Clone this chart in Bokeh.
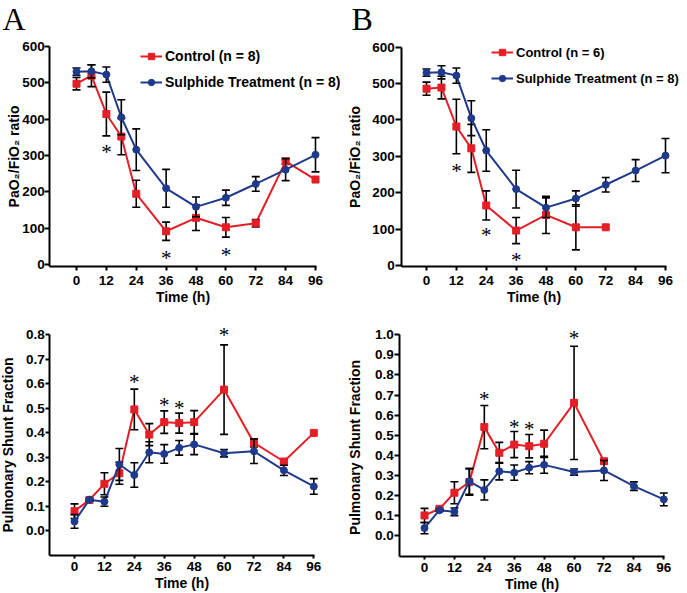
from bokeh.plotting import figure
from bokeh.models import (ColumnDataSource, FixedTicker, NumeralTickFormatter,
                          Legend, LegendItem, LabelSet, Label, Range1d, LinearAxis)
from bokeh.layouts import row, column
from bokeh.embed import file_html
from bokeh.resources import INLINE

# ---------------- data ----------------
x_ticks = [0, 12, 24, 36, 48, 60, 72, 84, 96]
pf_ticks = [0, 100, 200, 300, 400, 500, 600]
shunt_ticks_a = [0.0, 0.1, 0.2, 0.3, 0.4, 0.5, 0.6, 0.7, 0.8]
shunt_ticks_b = [0.0, 0.1, 0.2, 0.3, 0.4, 0.5, 0.6, 0.7, 0.8, 0.9, 1.0]

# PaO2/FiO2 ratio
time_pf = [0, 6, 12, 18, 24, 36, 48, 60, 72, 84, 96]
sulph_pf = [530, 531, 522, 405, 316, 210, 159, 184, 222, 261, 302]
sulph_pf_err = [10, 18, 21, 48, 57, 52, 27, 21, 20, 30, 47]

ctrl_pf_a = [497, 519, 414, 352, 195, 92, 129, 103, 114, 284, 234]
ctrl_pf_a_err = [17, 30, 60, 50, 37, 25, 35, 27, 10, 8, 0]

time_pf_ctrl_b = [0, 6, 12, 18, 24, 36, 48, 60, 72]
ctrl_pf_b = [486, 489, 382, 322, 165, 96, 139, 105, 105]
ctrl_pf_b_err = [18, 31, 75, 66, 40, 36, 51, 62, 0]

# Pulmonary shunt fraction
time_shunt = [0, 6, 12, 18, 24, 30, 36, 42, 48, 60, 72, 84, 96]
sulph_shunt = [0.037, 0.126, 0.118, 0.270, 0.227, 0.320, 0.313, 0.338, 0.352, 0.316, 0.324, 0.246, 0.180]
sulph_shunt_err = [0.028, 0.005, 0.019, 0.065, 0.050, 0.043, 0.038, 0.030, 0.042, 0.015, 0.050, 0.021, 0.032]

ctrl_shunt_a = [0.079, 0.125, 0.191, 0.234, 0.495, 0.392, 0.443, 0.439, 0.443, 0.576, 0.358, 0.282, 0.399]
ctrl_shunt_a_err = [0.030, 0.005, 0.045, 0.045, 0.083, 0.045, 0.046, 0.041, 0.047, 0.183, 0.016, 0.008, 0.0]

time_shunt_ctrl_b = [0, 6, 12, 18, 24, 30, 36, 42, 48, 60, 72]
ctrl_shunt_b = [0.100, 0.133, 0.213, 0.266, 0.540, 0.412, 0.453, 0.445, 0.457, 0.661, 0.370]
ctrl_shunt_b_err = [0.035, 0.005, 0.055, 0.065, 0.108, 0.052, 0.065, 0.058, 0.068, 0.282, 0.012]

# significance markers
stars_pf_a_x = [12, 36, 60]
stars_pf_a_y = [320, 30, 37]
stars_pf_b_x = [12, 24, 36]
stars_pf_b_y = [270, 96, 27]
stars_shunt_a_x = [24, 36, 42, 60]
stars_shunt_a_y = [0.624, 0.531, 0.518, 0.815]
stars_shunt_b_x = [24, 36, 42, 60]
stars_shunt_b_y = [0.701, 0.560, 0.551, 1.005]

legend_a = ["Control (n = 8)", "Sulphide Treatment (n = 8)"]
legend_b = ["Control (n = 6)", "Sulphide Treatment (n = 8)"]

RED = "#e41e26"
BLUE = "#1f3a8c"
FONT = "Liberation Sans"


def mapper(pa, va, pb, vb):
    s = (pb - pa) / (vb - va)
    return lambda px: va + (px - pa) / s


def make_panel(W, H, xanch, yanch, yaxis_px, xaxis_py, xright_px, ytop, yticks, ylabel, fmt,
               series, stars, letter=None, legend=None, legend_size="14px",
               ytick_out=5, ystd=(0, 1), xtick_out=4, xstd=(5, 0)):
    fx = mapper(*xanch)
    fy = mapper(*yanch)
    p = figure(width=W, height=H, output_backend="svg", toolbar_location=None,
               x_range=Range1d(fx(0), fx(W)), y_range=Range1d(fy(H), fy(0)),
               x_axis_location=None, y_axis_location=None,
               min_border_left=0, min_border_right=0, min_border_top=0, min_border_bottom=0)
    p.outline_line_color = None
    p.grid.grid_line_color = None
    p.background_fill_color = "white"
    p.border_fill_color = "white"

    y_loc = fx(yaxis_px)
    x_loc = fy(xaxis_py)
    xa = LinearAxis(fixed_location=x_loc, bounds=(y_loc, fx(xright_px)),
                    ticker=FixedTicker(ticks=x_ticks), axis_label="Time (h)")
    ya = LinearAxis(fixed_location=y_loc, bounds=(x_loc, ytop),
                    ticker=FixedTicker(ticks=yticks), axis_label=ylabel)
    if fmt:
        ya.formatter = NumeralTickFormatter(format=fmt)
    for ax, tout, std in ((xa, xtick_out, xstd), (ya, ytick_out, ystd)):
        ax.axis_line_width = 2
        ax.axis_line_color = "black"
        ax.major_tick_line_width = 2
        ax.major_tick_line_color = "black"
        ax.major_tick_in = 0
        ax.major_tick_out = tout
        ax.minor_tick_line_color = None
        ax.major_label_text_font = FONT
        ax.major_label_text_font_style = "bold"
        ax.major_label_text_font_size = "13.5px"
        ax.major_label_text_color = "black"
        ax.axis_label_text_font = FONT
        ax.axis_label_text_font_style = "bold"
        ax.axis_label_text_font_size = "14px"
        ax.axis_label_text_color = "black"
        ax.major_label_standoff = std[0]
        ax.axis_label_standoff = std[1]
    p.add_layout(xa, "below")
    p.add_layout(ya, "left")

    items = []
    for (t, v, e, color, marker, name) in series:
        ln = p.line(t, v, line_color=color, line_width=2)
        et = [ti for ti, ei in zip(t, e) if ei > 0]
        lo = [vi - ei for vi, ei in zip(v, e) if ei > 0]
        hi = [vi + ei for vi, ei in zip(v, e) if ei > 0]
        p.segment(x0=et, y0=lo, x1=et, y1=hi, line_color="black", line_width=1.6)
        p.scatter(et + et, lo + hi, marker="dash", size=8, line_color="black", line_width=1.6)
        sc = p.scatter(t, v, marker=marker, size=7, fill_color=color, line_color=color)
        items.append(LegendItem(label=name, renderers=[ln, sc]))

    if legend is not None:
        lg = Legend(items=items, location=legend, border_line_color=None,
                    background_fill_alpha=0, padding=0, margin=0, spacing=6,
                    glyph_width=22, glyph_height=16, label_height=20, label_standoff=3,
                    label_text_font=FONT, label_text_font_style="bold",
                    label_text_font_size=legend_size, label_text_color="black")
        p.add_layout(lg)

    sx, sy = stars
    ssrc = ColumnDataSource(dict(x=sx, y=sy, t=["*"] * len(sx)))
    p.add_layout(LabelSet(x="x", y="y", text="t", source=ssrc, text_align="center",
                          text_baseline="middle", text_font=FONT, text_font_size="21px",
                          text_color="black", y_offset=-4))

    if letter is not None:
        txt, lx, ly = letter
        p.add_layout(Label(x=lx, y=H - ly, x_units="screen", y_units="screen", text=txt,
                           text_font="Liberation Serif", text_font_size="32px",
                           text_baseline="alphabetic", text_align="left", text_color="black"))
    return p


pf_label = "PaO\u2082/FiO\u2082 ratio"

pa = make_panel(340, 306, (76, 0, 315, 96), (264.3, 0, 45.7, 600), 49.3, 266, 316, 600,
                pf_ticks, pf_label, None,
                [(time_pf, ctrl_pf_a, ctrl_pf_a_err, RED, "square", legend_a[0]),
                 (time_pf, sulph_pf, sulph_pf_err, BLUE, "circle", legend_a[1])],
                (stars_pf_a_x, stars_pf_a_y), letter=("A", 2, 18), legend=(140, 214),
                ytick_out=5, ystd=(0, -3), xtick_out=4, xstd=(5, 1))

pb = make_panel(347, 306, (86, 0, 325, 96), (265, 0, 46.7, 600), 61.3, 266.3, 326, 600,
                pf_ticks, pf_label, None,
                [(time_pf_ctrl_b, ctrl_pf_b, ctrl_pf_b_err, RED, "square", legend_b[0]),
                 (time_pf, sulph_pf, sulph_pf_err, BLUE, "circle", legend_b[1])],
                (stars_pf_b_x, stars_pf_b_y), letter=("B", 11, 18), legend=(151, 218),
                legend_size="13px",
                ytick_out=6, ystd=(1, 6), xtick_out=4, xstd=(5, 1))

pc = make_panel(340, 287, (74, 0, 313.3, 96), (224, 0, 28.3, 0.8), 49.3, 249.3, 314, 0.8,
                shunt_ticks_a, "Pulmonary Shunt Fraction", "0.0",
                [(time_shunt, ctrl_shunt_a, ctrl_shunt_a_err, RED, "square", legend_a[0]),
                 (time_shunt, sulph_shunt, sulph_shunt_err, BLUE, "circle", legend_a[1])],
                (stars_shunt_a_x, stars_shunt_a_y),
                ytick_out=4, ystd=(1, 7), xtick_out=3, xstd=(3, 1))

pd_ = make_panel(347, 287, (84, 0, 323.3, 96), (229, 0, 28.3, 1.0), 59.3, 250, 324, 1.0,
                 shunt_ticks_b, "Pulmonary  Shunt Fraction", "0.0",
                 [(time_shunt_ctrl_b, ctrl_shunt_b, ctrl_shunt_b_err, RED, "square", legend_b[0]),
                  (time_shunt, sulph_shunt, sulph_shunt_err, BLUE, "circle", legend_b[1])],
                 (stars_shunt_b_x, stars_shunt_b_y),
                 ytick_out=5, ystd=(1, 9), xtick_out=3, xstd=(3, 1))

layout = column(row(pa, pb), row(pc, pd_))

open("out.html", "w").write(file_html(layout, INLINE))
